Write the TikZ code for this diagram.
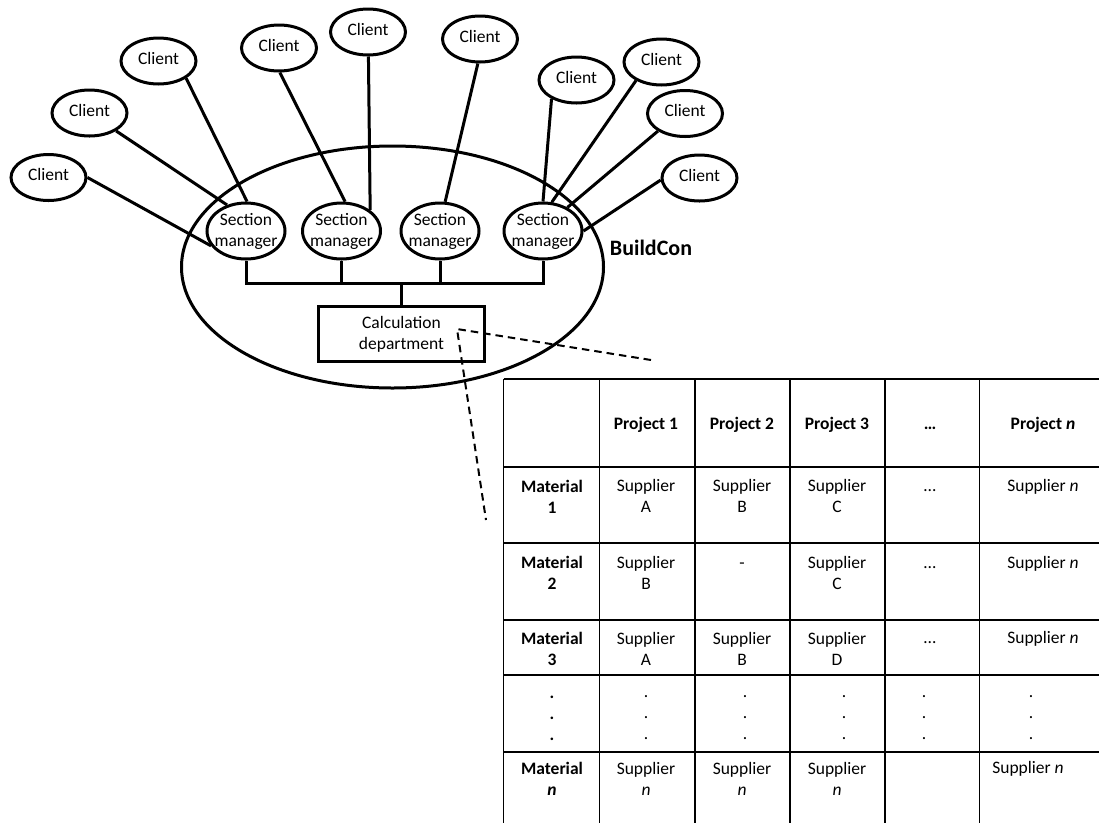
\documentclass[tikz,border=0pt]{standalone}
\usepackage{fontspec}
\setmainfont{Carlito}
\usetikzlibrary{shapes.geometric}
\newcommand\diagfont{\fontsize{17.5}{21}\selectfont}
\newcommand\tabfont{\fontsize{17.5}{21}\selectfont}
\begin{document}
\begin{tikzpicture}[x=1pt,y=-1pt,
  conn/.style={line width=3pt},
  client/.style={draw, ellipse, line width=3pt, minimum width=75pt, minimum height=46pt,
    inner sep=0pt, text depth=6pt, font=\diagfont},
  secman/.style={draw, ellipse, line width=3pt, minimum width=78pt, minimum height=56pt,
    inner sep=0pt, label={[font=\diagfont, align=center, inner sep=0pt]center:Section\\manager}},
  dept/.style={draw, rectangle, line width=3pt, minimum width=166pt, minimum height=55pt,
    inner sep=0pt, align=center, font=\diagfont},
  zoomline/.style={line width=2pt, dash pattern=on 7.5pt off 5pt},
  grid/.style={line width=1.3pt},
  cell/.style={font=\tabfont, align=center, inner sep=0pt},
  hcell/.style={cell, font=\tabfont\bfseries}
]
\useasboundingbox (0,0) rectangle (1099,823);

% company boundary
\node[draw, ellipse, line width=3pt, minimum width=422pt, minimum height=242pt, inner sep=0pt]
  (firm) at (392.5,267) {};
\node[font=\fontsize{22}{26}\selectfont\bfseries, inner sep=0pt] (buildcon) at (651,248) {BuildCon};

% section managers
\node[secman] (sm1) at (246,231) {};
\node[secman] (sm2) at (341.5,231) {};
\node[secman] (sm3) at (440,231) {};
\node[secman] (sm4) at (543,231) {};

% clients
\node[client] (c1) at (48.5,177.5) {Client};
\node[client] (c2) at (89.5,113) {Client};
\node[client] (c3) at (158.5,61) {Client};
\node[client] (c4) at (279,48) {Client};
\node[client] (c5) at (368,32) {Client};
\node[client] (c6) at (480,39) {Client};
\node[client] (c7) at (576.5,80) {Client};
\node[client] (c8) at (661.5,62) {Client};
\node[client] (c9) at (685,113.5) {Client};
\node[client] (c10) at (699.5,178) {Client};

% client links
\draw[conn] (c1.0) -- (sm1.203);
\draw[conn] (c2.-34) -- (sm1.126);
\draw[conn] (c3.-32) -- (sm1.88);
\draw[conn] (c4.-88) -- (sm2.83);
\draw[conn] (c5.-89) -- (sm2.36);
\draw[conn] (c6.-95) -- (sm3.80);
\draw[conn] (c7.217) -- (sm4.90);
\draw[conn] (c8.216) -- (sm4.73);
\draw[conn] (c9.213) -- (sm4.44);
\draw[conn] (c10.183) -- (sm4.0);

% calculation department and internal bus
\node[dept] (calc) at (401.5,334) {Calculation\\department};
\coordinate (bus) at (401,283);
\draw[conn] (sm1.south) |- (bus) -| (sm4.south);
\draw[conn] (sm2.south) -- (sm2.south |- bus);
\draw[conn] (sm3.south) -- (sm3.south |- bus);
\draw[conn] (calc.north -| bus) -- (bus);

% zoom lines towards the table
\coordinate (zsrc) at (457,329);
\coordinate (zright) at (651,360);
\coordinate (zdown) at (486,520);
\draw[zoomline] (zright) -- (zsrc) -- (zdown);

% table grid
\foreach \y in {379,467,543,620,675,752}
  \draw[grid] (503.5,\y) -- (1099,\y);
\foreach \x in {503.5,599.5,695,790,885,979.5}
  \draw[grid] (\x,379) -- (\x,823);

% header row
\node[hcell, anchor=base] (p1) at (646,429.6) {Project 1};
\node[hcell, anchor=base] (p2) at (742,429.6) {Project 2};
\node[hcell, anchor=base] (p3) at (837,429.6) {Project 3};
\node[hcell, anchor=base] (pd) at (930,429.6) {…};
\node[hcell, anchor=base] (pn) at (1043,429.6) {Project \textit{n}};

% material 1
\node[hcell] (m1) at (552,496.4) {Material\\1};
\node[cell] (r1c1) at (646,496.4) {Supplier\\A};
\node[cell] (r1c2) at (742,496.4) {Supplier\\B};
\node[cell] (r1c3) at (837,496.4) {Supplier\\C};
\node[cell, anchor=base] (r1c4) at (930,491.5) {…};
\node[cell, anchor=base] (r1c5) at (1043,491.5) {Supplier \textit{n}};

% material 2
\node[hcell] (m2) at (552,573.2) {Material\\2};
\node[cell] (r2c1) at (646,573.2) {Supplier\\B};
\node[cell, anchor=base] (r2c2) at (742,568.3) {-};
\node[cell] (r2c3) at (837,573.2) {Supplier\\C};
\node[cell, anchor=base] (r2c4) at (930,568.3) {…};
\node[cell, anchor=base] (r2c5) at (1043,568.3) {Supplier \textit{n}};

% material 3
\node[hcell] (m3) at (552,648.5) {Material\\3};
\node[cell] (r3c1) at (646,648.5) {Supplier\\A};
\node[cell] (r3c2) at (742,648.5) {Supplier\\B};
\node[cell] (r3c3) at (837,648.5) {Supplier\\D};
\node[cell, anchor=base] (r3c4) at (930,643.6) {…};
\node[cell, anchor=base] (r3c5) at (1043,643.6) {Supplier \textit{n}};

% continuation dots
\node[hcell] (md) at (552,718) {.\\.\\.};
\node[cell] (rdc1) at (646,718) {.\\.\\.};
\node[cell] (rdc2) at (745,718) {.\\.\\.};
\node[cell] (rdc3) at (844,718) {.\\.\\.};
\node[cell] (rdc4) at (924,718) {.\\.\\.};
\node[cell] (rdc5) at (1031,718) {.\\.\\.};

% material n
\node[hcell] (mn) at (552,778.5) {Material\\\textit{n}};
\node[cell] (rnc1) at (646,778.5) {Supplier\\\textit{n}};
\node[cell] (rnc2) at (742,778.5) {Supplier\\\textit{n}};
\node[cell] (rnc3) at (837,778.5) {Supplier\\\textit{n}};
\node[cell, anchor=base] (rnc5) at (1028,773.6) {Supplier \textit{n}};
\end{tikzpicture}
\end{document}
